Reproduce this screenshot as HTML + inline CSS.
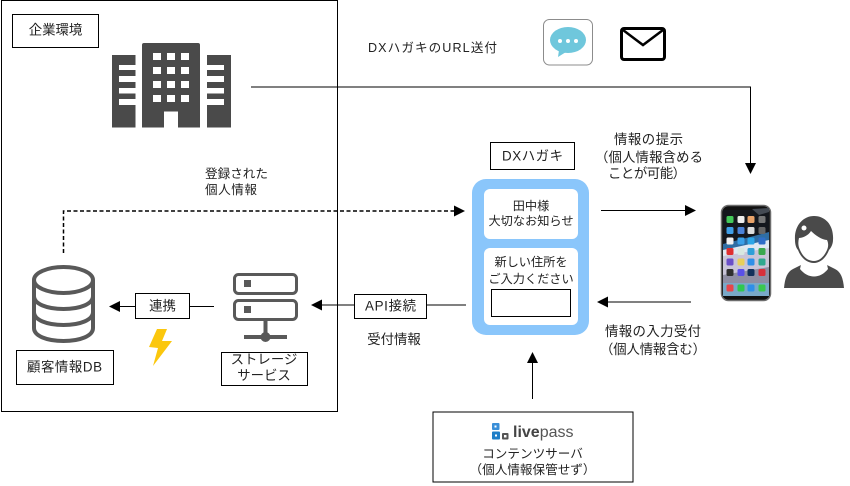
<!DOCTYPE html>
<html lang="ja">
<head>
<meta charset="utf-8">
<title>DXハガキ</title>
<style>
html,body{margin:0;padding:0;background:#fff;width:850px;height:486px;overflow:hidden}
svg{display:block}
text{font-family:"Liberation Sans","Noto Sans CJK JP",sans-serif;font-size:12.6px;fill:#222;text-anchor:middle}
.b{font-size:13.4px}
.s{font-size:12.2px}
.l{text-anchor:start}
.box{fill:#fff;stroke:#000;stroke-width:1}
.ln{fill:none;stroke:#000;stroke-width:1}
.ic{fill:#4a4a4a}
</style>
</head>
<body>
<svg width="850" height="486" viewBox="0 0 850 486" xmlns="http://www.w3.org/2000/svg">
<rect width="850" height="486" fill="#fff"/>
<!-- enterprise frame -->
<rect x="1.5" y="0.5" width="336" height="411" class="box" fill="none"/>
<rect x="12.5" y="14.5" width="86" height="33" class="box"/>
<text x="55.5" y="34.5" class="b">企業環境</text>
<!-- building -->
<rect x="112" y="55" width="23.5" height="72.5" class="ic"/>
<rect x="207" y="55" width="24" height="72.5" class="ic"/>
<path d="M142 45q0-2 2-2h54q2 0 2 2v82.500h-22v-16h-14v16h-22z" class="ic"/>
<g fill="#fff">
<rect x="119" y="65" width="17" height="5"/><rect x="119" y="76" width="17" height="6"/><rect x="119" y="88" width="17" height="5.500"/><rect x="119" y="99" width="17" height="6"/>
<rect x="207" y="65" width="17" height="5"/><rect x="207" y="76" width="17" height="6"/><rect x="207" y="88" width="17" height="5.500"/><rect x="207" y="99" width="17" height="6"/>
<rect x="153" y="53" width="8" height="7"/><rect x="167" y="53" width="8" height="7"/><rect x="181" y="53" width="8" height="7"/>
<rect x="153" y="67" width="8" height="7"/><rect x="167" y="67" width="8" height="7"/><rect x="181" y="67" width="8" height="7"/>
<rect x="153" y="81" width="8" height="7"/><rect x="167" y="81" width="8" height="7"/><rect x="181" y="81" width="8" height="7"/>
<rect x="153" y="95" width="8" height="7"/><rect x="167" y="95" width="8" height="7"/><rect x="181" y="95" width="8" height="7"/>
</g>
<!-- top line -->
<path d="M251 87H750.500V164" class="ln"/>
<path d="M745 163h11l-5.500 11z" fill="#000"/>
<text x="368" y="52" class="l" textLength="129" fill="#333">DXハガキのURL送付</text>
<!-- chat icon -->
<rect x="543.500" y="19.500" width="49" height="45.500" rx="6" fill="#fff" stroke="#8c8c8c"/>
<ellipse cx="568" cy="40" rx="18" ry="13" fill="#6fc7dc"/>
<path d="M559 50l-1 7 8-5z" fill="#6fc7dc"/>
<circle cx="560" cy="41" r="2" fill="#fff"/><circle cx="568" cy="41" r="2" fill="#fff"/><circle cx="576" cy="41" r="2" fill="#fff"/>
<!-- mail icon -->
<rect x="621.500" y="28.500" width="43" height="31" rx="2.500" fill="#fff" stroke="#000" stroke-width="3"/>
<path d="M623 30l20 15 20-15" fill="none" stroke="#000" stroke-width="2.500"/>
<!-- dashed -->
<text x="205" y="178" class="l" textLength="63">登録された</text>
<text x="205" y="194" class="l" textLength="52">個人情報</text>
<path d="M63.500 253V211H455" fill="none" stroke="#000" stroke-width="1.500" stroke-dasharray="4 2.500"/>
<path d="M454 205.500v11l11-5.500z" fill="#000"/>
<!-- DB -->
<g fill="none" stroke="#595959" stroke-width="4">
<ellipse cx="63.500" cy="280" rx="29.500" ry="13"/>
<path d="M34 280v48c0 8 13 13 29.500 13s29.500-5 29.500-13v-48"/>
<path d="M34 296c0 8 13 13 29.500 13s29.500-5 29.500-13"/>
<path d="M34 312c0 8 13 13 29.500 13s29.500-5 29.500-13"/>
</g>
<rect x="16.500" y="350.500" width="97" height="34" class="box"/>
<text x="64.500" y="371.500" class="b" textLength="75">顧客情報DB</text>
<!-- link arrow -->
<path d="M120 306.500H135M189 306.500H214" class="ln"/>
<path d="M120 301v11l-11-5.500z" fill="#000"/>
<rect x="135.500" y="293.500" width="54" height="25" class="box"/>
<text x="162.500" y="310.500" class="b">連携</text>
<path d="M157 329h10l-5 12h10l-19 25 5-18-9-1z" fill="#fbc70d"/>
<!-- server -->
<g fill="none" stroke="#595959" stroke-width="3">
<rect x="234.500" y="274.500" width="62" height="19" rx="4"/>
<rect x="234.500" y="300.500" width="62" height="19" rx="4"/>
</g>
<rect x="244" y="280" width="7" height="7" fill="#595959"/>
<rect x="244" y="306" width="7" height="7" fill="#595959"/>
<path d="M265.500 320V337M244 337H287" stroke="#595959" stroke-width="4" fill="none"/>
<circle cx="265.500" cy="337" r="5" fill="#595959"/>
<rect x="221.500" y="352.500" width="86" height="33" class="box"/>
<text x="264" y="364" class="b">ストレージ</text>
<text x="264" y="380" class="b">サービス</text>
<!-- API arrow -->
<path d="M321 305H355M427 305H466" class="ln"/>
<path d="M322 299.500v11l-11-5.500z" fill="#000"/>
<rect x="354.500" y="294.500" width="72" height="24" class="box"/>
<text x="365" y="310.500" class="b l" textLength="51">API接続</text>
<text x="394" y="344" class="b">受付情報</text>
<!-- DX hagaki -->
<rect x="490.500" y="142.500" width="84" height="27" class="box"/>
<text x="502" y="160.500" class="b l" textLength="61">DXハガキ</text>
<rect x="472" y="179" width="117" height="156" rx="14" fill="#8ac6fb"/>
<rect x="484" y="189" width="94" height="50" rx="6" fill="#fff"/>
<rect x="484" y="248" width="94" height="77" rx="6" fill="#fff"/>
<text x="531" y="210" class="s">田中様</text>
<text x="531" y="225" class="s">大切なお知らせ</text>
<text x="531" y="266" class="s">新しい住所を</text>
<text x="531" y="283" class="s">ご入力ください</text>
<rect x="491.500" y="289.500" width="79" height="27" class="box"/>
<!-- right arrows -->
<path d="M601 210.500H686" class="ln"/>
<path d="M685 205v11l11-5.500z" fill="#000"/>
<path d="M608 302H691" class="ln"/>
<path d="M608 296.500v11l-11-5.500z" fill="#000"/>
<text x="614" y="144" class="b l" textLength="69">情報の提示</text>
<text x="595" y="162" class="b l" textLength="108">（個人情報含める</text>
<text x="608" y="178" class="b l" textLength="78">ことが可能）</text>
<text x="605" y="336" class="b l" textLength="96">情報の入力受付</text>
<text x="600" y="354" class="b l" textLength="106">（個人情報含む）</text>
<!-- phone -->
<rect x="721.500" y="205.500" width="49" height="95" rx="7" fill="#111" stroke="#6d6d6d" stroke-width="1.500"/>
<rect x="723" y="210" width="46" height="86" fill="#14171d"/>
<path d="M723 244l46-12v14l-46 10z" fill="#2f6da3"/>
<path d="M723 250l46-10v10l-46 8z" fill="#dfe8f2"/>
<path d="M723 256l46-8v35h-46z" fill="#c9c5d8"/>
<path d="M723 275l46-8v16h-46z" fill="#8f8ea3"/>
<rect x="723" y="283" width="46" height="13" fill="#79a9c8"/>
<path d="M752 209l17-1v4l-10 3z" fill="#444a53"/>
<g>
<rect x="726.500" y="216" width="7" height="7" rx="1.500" fill="#43c95a"/><rect x="737.500" y="216" width="7" height="7" rx="1.500" fill="#eee"/><rect x="747.500" y="216" width="7" height="7" rx="1.500" fill="#e8a36a"/><rect x="758.500" y="216" width="7" height="7" rx="1.500" fill="#777"/>
<rect x="726.500" y="227" width="7" height="7" rx="1.500" fill="#3f9fe8"/><rect x="737.500" y="227" width="7" height="7" rx="1.500" fill="#4a82d8"/><rect x="747.500" y="227" width="7" height="7" rx="1.500" fill="#ddd"/><rect x="758.500" y="227" width="7" height="7" rx="1.500" fill="#666"/>
<rect x="726.500" y="237.500" width="7" height="7" rx="1.500" fill="#f2f2f2"/><rect x="737.500" y="237.500" width="7" height="7" rx="1.500" fill="#3aa0e8"/><rect x="747.500" y="237.500" width="7" height="7" rx="1.500" fill="#2ca6e8"/><rect x="758.500" y="237.500" width="7" height="7" rx="1.500" fill="#2f6ec8"/>
<rect x="726.500" y="248" width="7" height="7" rx="1.500" fill="#e02f2f"/><rect x="737.500" y="248" width="7" height="7" rx="1.500" fill="#d8e8e0"/><rect x="747.500" y="248" width="7" height="7" rx="1.500" fill="#2f9fd8"/><rect x="758.500" y="248" width="7" height="7" rx="1.500" fill="#3aa84f"/>
<rect x="726.500" y="258.500" width="7" height="7" rx="1.500" fill="#6a4fc8"/><rect x="737.500" y="258.500" width="7" height="7" rx="1.500" fill="#e8d05a"/><rect x="747.500" y="258.500" width="7" height="7" rx="1.500" fill="#2f8fe8"/><rect x="758.500" y="258.500" width="7" height="7" rx="1.500" fill="#2fa88f"/>
<rect x="726.500" y="269" width="7" height="7" rx="1.500" fill="#2f2f2f"/><rect x="737.500" y="269" width="7" height="7" rx="1.500" fill="#5a50e8"/><rect x="747.500" y="269" width="7" height="7" rx="1.500" fill="#12305a"/><rect x="758.500" y="269" width="7" height="7" rx="1.500" fill="#d82f3a"/>
<rect x="726.500" y="284.500" width="7" height="7" rx="1.500" fill="#e8454a"/><rect x="737.500" y="284.500" width="7" height="7" rx="1.500" fill="#2fc84f"/><rect x="747.500" y="284.500" width="7" height="7" rx="1.500" fill="#2f8fe8"/><rect x="758.500" y="284.500" width="7" height="7" rx="1.500" fill="#3ac84f"/>
</g>
<!-- person -->
<path d="M784 288c1-10 3-16 9-19l10-5h22l10 5c6 3 8 9 9 19z" class="ic"/>
<path d="M802 260h24l2 9c-4 5-9 7.500-14 7.500s-10-2.500-14-7.500z" fill="#fff"/>
<path d="M795 240C794 226 803 216 814 216C826 216 834 226 833 240C833 244 831 248 829 250C826 258 820 263 814 263C807 263 801 258 798 250C796 248 795 244 795 240z" class="ic"/>
<path d="M799 238C802 238 808 236 811 231C815 235 822 240 827 240C829 244 828 248 827 250C824 257 819 261 814 261C808 261 803 257 800 250C798 246 798 242 799 238z" fill="#fff"/>
<circle cx="804" cy="228" r="2.500" fill="#fff"/>
<!-- content server -->
<path d="M532.500 363V399" class="ln"/>
<path d="M527 363h11l-5.500-11z" fill="#000"/>
<rect x="433" y="412" width="200" height="70" class="box"/>
<g>
<rect x="492" y="423" width="7.500" height="7" rx="1" fill="#3a8fd8"/>
<rect x="492" y="431.500" width="8" height="8" rx="1" fill="#1f7fc8"/>
<rect x="502" y="433" width="6.500" height="6.500" rx="1" fill="#555"/>
<rect x="494.500" y="425.500" width="2" height="2" fill="#fff"/>
<rect x="495" y="434.500" width="2" height="2" fill="#fff"/>
<rect x="504" y="435" width="2.500" height="2.500" fill="#fff"/>
</g>
<text x="513" y="437" style="text-anchor:start;font-size:16px;font-weight:700;fill:#444">live<tspan style="font-weight:400;fill:#555">pass</tspan></text>
<text x="532.500" y="458">コンテンツサーバ</text>
<text x="532.500" y="474">（個人情報保管せず）</text>
</svg>
</body>
</html>
